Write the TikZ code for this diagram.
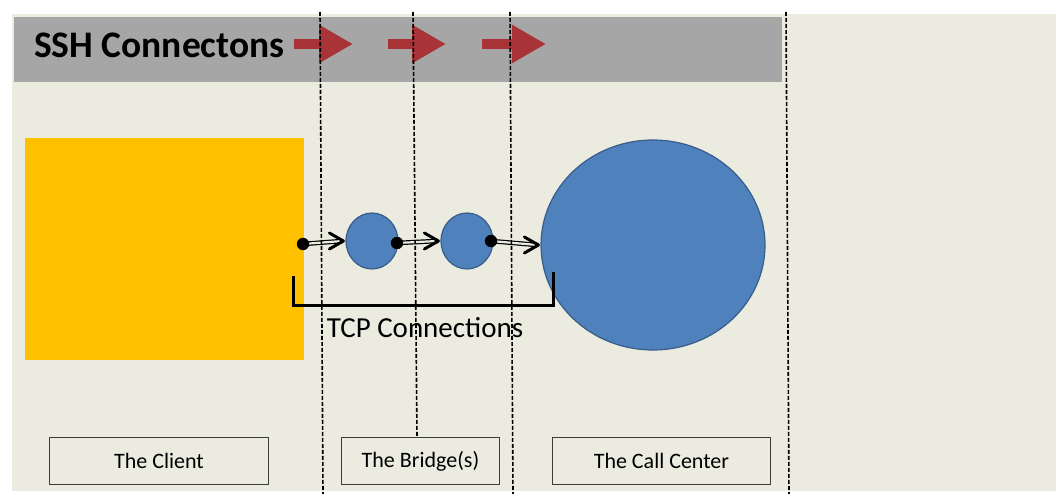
\documentclass[tikz,border=0pt]{standalone}
\usepackage{fontspec}
\setmainfont{Carlito}
\usetikzlibrary{shapes.geometric,arrows.meta,calc}
\definecolor{bgbeige}{RGB}{235,235,224}
\definecolor{bargray}{RGB}{166,166,166}
\definecolor{arrred}{RGB}{168,52,56}
\definecolor{clientorange}{RGB}{255,192,0}
\definecolor{nodeblue}{RGB}{79,129,189}
\definecolor{nodeborder}{RGB}{56,93,138}
\definecolor{boxborder}{RGB}{60,60,60}
\tikzset{
  bluenode/.style={ellipse, fill=nodeblue, draw=nodeborder, line width=1.2pt, inner sep=0pt},
  dotnode/.style={circle, fill=black, draw=black, inner sep=0pt, minimum size=12pt},
  labelbox/.style={draw=boxborder, line width=0.9pt, minimum height=47pt, inner sep=0pt, font=\fontsize{22}{25}\selectfont},
  sshpointer/.style={draw=arrred, line width=10pt, -{Triangle[length=34pt,width=36pt]}},
  dblshaft/.style={double=bgbeige, double distance=2.2pt, line width=1.2pt, draw=black},
  barbtip/.style={draw=black, line width=3pt, line cap=round, line join=round},
  sepline/.style={draw=black, line width=1.6pt, dash pattern=on 4pt off 2pt},
}
\begin{document}
\begin{tikzpicture}[x=1pt,y=-1pt]
\useasboundingbox (0,0) rectangle (1056,494);
\fill[white] (0,0) rectangle (1056,494);
\fill[bgbeige] (12,14) rectangle (1056,491);
% header bar
\fill[bargray] (14,17) rectangle (782,82);
\node[anchor=west, font=\bfseries\fontsize{37.5}{40}\selectfont, inner sep=0pt] (title) at (34,45) {SSH Connectons};
\coordinate (p1s) at (294,44); \coordinate (p1e) at (353,44);
\coordinate (p2s) at (388,44); \coordinate (p2e) at (446,44);
\coordinate (p3s) at (482,44); \coordinate (p3e) at (546,44);
\draw[sshpointer] (p1s) -- (p1e);
\draw[sshpointer] (p2s) -- (p2e);
\draw[sshpointer] (p3s) -- (p3e);
% client
\node[fill=clientorange, minimum width=279pt, minimum height=222pt, inner sep=0pt, anchor=north west] (client) at (25,138) {};
% nodes
\node[bluenode, minimum width=52pt, minimum height=56pt] (c1) at (372,241) {};
\node[bluenode, minimum width=52pt, minimum height=56pt] (c2) at (467,241) {};
\node[bluenode, minimum width=224pt, minimum height=210pt] (c3) at (653,245) {};
% TCP arrows
\coordinate (d1c) at (303,244);
\coordinate (d2c) at (397,243);
\coordinate (d3c) at (491,241);
\foreach \a/\b in {d1c/c1,d2c/c2,d3c/c3}{
  \draw[dblshaft] (\a) -- ($(\b.west)+(-3,0)$);
  \draw[barbtip] ($(\b.west)+(-16,-8)$) -- ($(\b.west)+(-2,0)$) -- ($(\b.west)+(-16,8)$);
}
\node[dotnode] (d1) at (d1c) {};
\node[dotnode] (d2) at (d2c) {};
\node[dotnode] (d3) at (d3c) {};
% bracket
\coordinate (bl) at (293,276);
\coordinate (br) at (553,272);
\draw[line width=3pt] (bl) |- (553,305) -- (br);
\node[font=\fontsize{29}{32}\selectfont, inner sep=0pt] (tcp) at (425,328) {TCP Connections};
% labels
\node[labelbox, minimum width=219pt, anchor=north west] (lclient) at (49,437) {The Client};
\node[labelbox, minimum width=158pt, anchor=north west] (lbridge) at (341,437) {The Bridge(s)};
\node[labelbox, minimum width=218pt, anchor=north west] (lcall) at (552,437) {The Call Center};
% separators
\coordinate (s1t) at (320,12); \coordinate (s1b) at (323,494);
\coordinate (s2t) at (413,12); \coordinate (s2b) at (417,437);
\coordinate (s3t) at (510,12); \coordinate (s3b) at (513,494);
\coordinate (s4t) at (786,12); \coordinate (s4b) at (789,494);
\draw[sepline] (s1t) -- (s1b);
\draw[sepline] (s2t) -- (s2b);
\draw[sepline] (s3t) -- (s3b);
\draw[sepline] (s4t) -- (s4b);
\end{tikzpicture}
\end{document}
